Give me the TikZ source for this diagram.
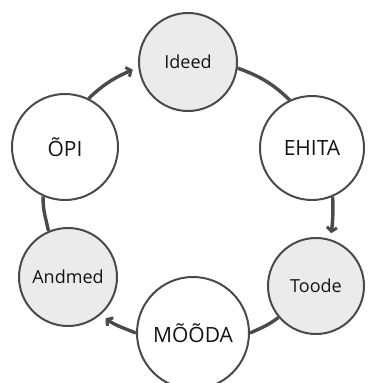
\documentclass[tikz,border=0pt]{standalone}
\usepackage{fontspec}
\setmainfont{Open Sans}
\usetikzlibrary{arrows.meta}
\definecolor{edge}{HTML}{4A4A4A}
\definecolor{light}{HTML}{EBEBEB}
\definecolor{txt}{HTML}{141414}
\tikzset{
  bignode/.style={circle, draw=edge, line width=2pt, fill=white, text=txt, inner sep=0pt, font=\fontsize{21}{22}\selectfont},
  smallnode/.style={circle, draw=edge, line width=2pt, fill=light, text=txt, inner sep=0pt, font=\fontsize{18}{19}\selectfont},
  link/.style={draw=edge, line width=3.4pt},
  arrowlink/.style={link, -{Straight Barb[length=4pt,width=10pt,line width=3pt]}, shorten >=6pt}
}
\begin{document}
\begin{tikzpicture}[x=1pt,y=1pt]
\useasboundingbox (0,0) rectangle (367,-383);
\node[smallnode, minimum size=98pt] (ideed) at (188,-62) {Ideed};
\node[bignode, minimum size=104pt] (ehita) at (312,-148) {EHITA};
\node[smallnode, minimum size=96pt] (toode) at (316,-286) {Toode};
\node[bignode, minimum size=112pt] (mooda) at (193,-333) {MÕÕDA};
\node[smallnode, minimum size=98pt] (andmed) at (68,-277) {Andmed};
\node[bignode, minimum size=106pt] (opi) at (65,-147) {ÕPI};
\draw[link] (ideed.353) to[out=340, in=136] (ehita.115);
\draw[arrowlink] (ehita.293) to[out=272, in=82] (toode.73);
\draw[link] (toode.220) to[out=217, in=24] (mooda.0);
\draw[arrowlink] (mooda.180) to[out=159, in=323] (andmed.311);
\draw[link] (andmed.113) to[out=102, in=269] (opi.246);
\draw[arrowlink] (opi.64) to[out=44, in=204] (ideed.186);
\end{tikzpicture}
\end{document}
